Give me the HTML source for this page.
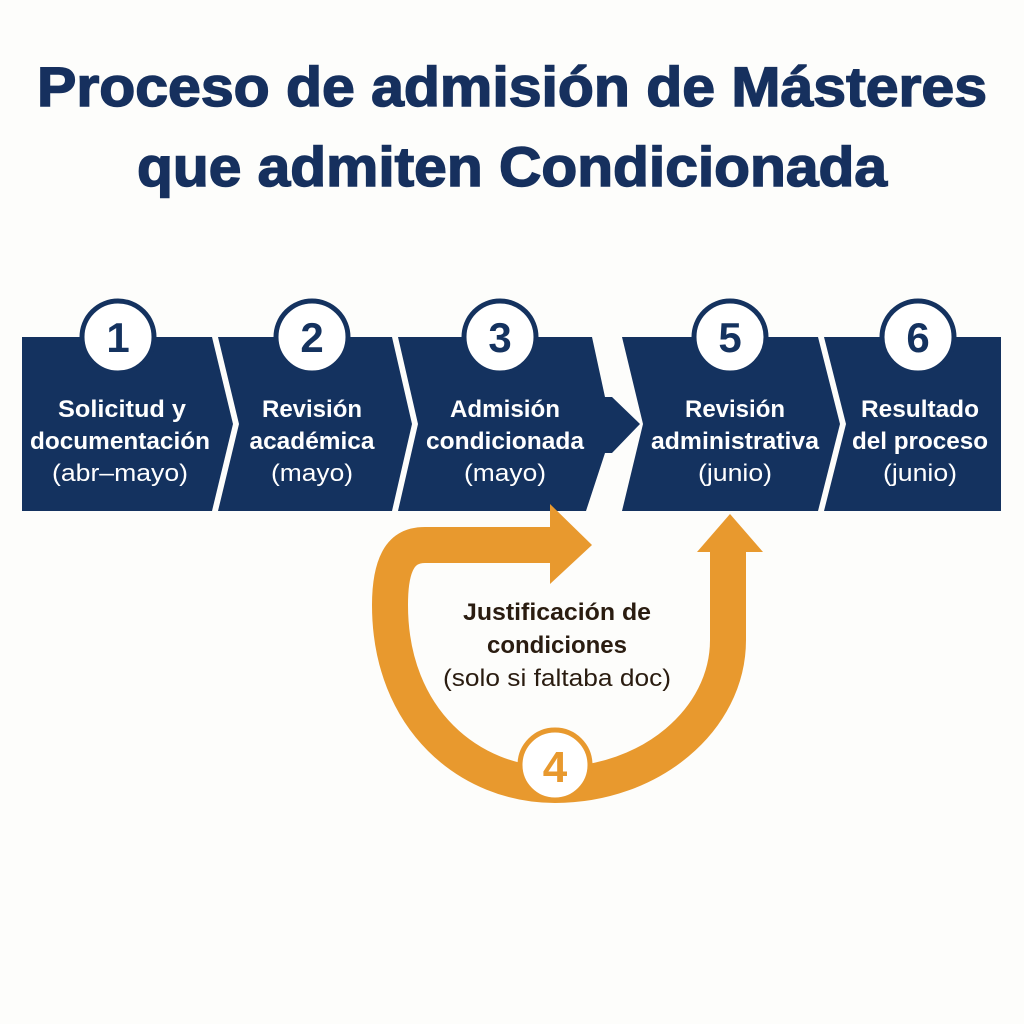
<!DOCTYPE html>
<html><head><meta charset="utf-8"><style>
html,body{margin:0;padding:0;background:#fdfdfb;}
svg{display:block;}
text{font-family:"Liberation Sans",sans-serif;}
</style></head><body>
<svg width="1024" height="1024" viewBox="0 0 1024 1024" xmlns="http://www.w3.org/2000/svg">
<rect width="1024" height="1024" fill="#fdfdfb"/>
<g fill="#16305e" stroke="#16305e" stroke-width="1.5" font-weight="bold" font-size="56" text-anchor="middle">
<text x="512" y="106" textLength="950" lengthAdjust="spacingAndGlyphs">Proceso de admisión de Másteres</text>
<text x="512" y="186" textLength="750" lengthAdjust="spacingAndGlyphs">que admiten Condicionada</text>
</g>
<g fill="#14325f">
<polygon points="22,337 212,337 233,424 212,511 22,511"/>
<polygon points="218,337 392,337 412,424 392,511 218,511 239,424"/>
<polygon points="398,337 592,337 605,397 612,397 640,424 612,453 605,453 586,511 398,511 418,424"/>
<polygon points="622,337 818,337 840,424 818,511 622,511 643,424"/>
<polygon points="824,337 1001,337 1001,511 824,511 846,424"/>
</g>
<g fill="#fff" stroke="#14325f" stroke-width="5">
<circle cx="118" cy="337" r="36"/><circle cx="312" cy="337" r="36"/><circle cx="500" cy="337" r="36"/>
<circle cx="730" cy="337" r="36"/><circle cx="918" cy="337" r="36"/>
</g>
<g fill="#14325f" font-weight="bold" font-size="42" text-anchor="middle">
<text x="118" y="352">1</text><text x="312" y="352">2</text><text x="500" y="352">3</text><text x="730" y="352">5</text><text x="918" y="352">6</text>
</g>
<g fill="#fff" font-size="24" text-anchor="middle">
<g font-weight="bold">
<text x="122" y="417" textLength="128" lengthAdjust="spacingAndGlyphs">Solicitud y</text>
<text x="120" y="449" textLength="180" lengthAdjust="spacingAndGlyphs">documentación</text>
<text x="312" y="417" textLength="100" lengthAdjust="spacingAndGlyphs">Revisión</text>
<text x="312" y="449" textLength="125" lengthAdjust="spacingAndGlyphs">académica</text>
<text x="505" y="417" textLength="110" lengthAdjust="spacingAndGlyphs">Admisión</text>
<text x="505" y="449" textLength="158" lengthAdjust="spacingAndGlyphs">condicionada</text>
<text x="735" y="417" textLength="100" lengthAdjust="spacingAndGlyphs">Revisión</text>
<text x="735" y="449" textLength="168" lengthAdjust="spacingAndGlyphs">administrativa</text>
<text x="920" y="417" textLength="118" lengthAdjust="spacingAndGlyphs">Resultado</text>
<text x="920" y="449" textLength="136" lengthAdjust="spacingAndGlyphs">del proceso</text>
</g>
<text x="120" y="481" textLength="136" lengthAdjust="spacingAndGlyphs">(abr–mayo)</text>
<text x="312" y="481" textLength="82" lengthAdjust="spacingAndGlyphs">(mayo)</text>
<text x="505" y="481" textLength="82" lengthAdjust="spacingAndGlyphs">(mayo)</text>
<text x="735" y="481" textLength="74" lengthAdjust="spacingAndGlyphs">(junio)</text>
<text x="920" y="481" textLength="74" lengthAdjust="spacingAndGlyphs">(junio)</text>
</g>
<path d="M555,545 L425,545 C395,545 390,575 390,605 C390,720 470,785 555,785 C650,785 728,720 728,640 L728,550" fill="none" stroke="#e8992e" stroke-width="36"/>
<polygon points="550,504 592,545 550,584" fill="#e8992e"/>
<polygon points="697,552 730,514 763,552" fill="#e8992e"/>
<circle cx="555" cy="765" r="35" fill="#fff" stroke="#e8992e" stroke-width="5"/>
<text x="555" y="782" fill="#e8992e" font-weight="bold" font-size="44" text-anchor="middle">4</text>
<g fill="#2a1c10" font-size="24" text-anchor="middle">
<text x="557" y="620" font-weight="bold" textLength="188" lengthAdjust="spacingAndGlyphs">Justificación de</text>
<text x="557" y="653" font-weight="bold" textLength="140" lengthAdjust="spacingAndGlyphs">condiciones</text>
<text x="557" y="686" textLength="228" lengthAdjust="spacingAndGlyphs">(solo si faltaba doc)</text>
</g>
</svg>
</body></html>
